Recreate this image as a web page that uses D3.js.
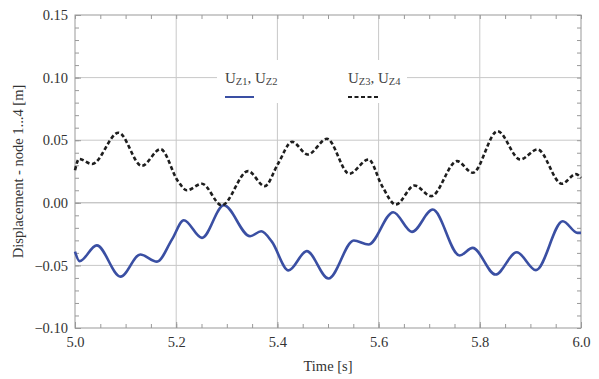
<!DOCTYPE html>
<html>
<head>
<meta charset="utf-8">
<script src="https://cdn.jsdelivr.net/npm/d3@7"></script>
<style>
  body { margin: 0; background: #fff; }
  svg { display: block; }
  text { font-family: "Liberation Serif", "Times New Roman", serif; }
</style>
</head>
<body>
<svg id="chart" width="599" height="379"></svg>
<script>
// Vertical displacement of nodes 1..4 over one second of simulation
const timeUz12 = [5.000, 5.009, 5.043, 5.090, 5.129, 5.162, 5.192, 5.215, 5.251, 5.294,
                  5.346, 5.368, 5.389, 5.422, 5.458, 5.501, 5.551, 5.580, 5.629, 5.666,
                  5.707, 5.760, 5.786, 5.831, 5.873, 5.911, 5.964, 5.993, 6.000];
const uz12 = [-0.039, -0.0466, -0.0340, -0.0590, -0.0413, -0.0470, -0.0290, -0.0139, -0.0280, -0.0020,
              -0.0267, -0.0227, -0.0310, -0.0540, -0.0386, -0.0605, -0.0301, -0.0333, -0.0075, -0.0232,
              -0.0054, -0.0421, -0.0360, -0.0573, -0.0395, -0.0538, -0.0147, -0.0240, -0.0240];

const timeUz34 = [5.000, 5.008, 5.034, 5.086, 5.132, 5.169, 5.204, 5.221, 5.251, 5.290,
                  5.342, 5.375, 5.401, 5.429, 5.460, 5.498, 5.542, 5.580, 5.607, 5.634,
                  5.671, 5.704, 5.755, 5.786, 5.835, 5.880, 5.914, 5.962, 5.990, 6.000];
const uz34 = [0.026, 0.035, 0.031, 0.056, 0.0295, 0.0428, 0.017, 0.010, 0.0152, -0.002,
              0.0253, 0.0133, 0.031, 0.0487, 0.0386, 0.0511, 0.0232, 0.0346, 0.0133, -0.0014,
              0.0138, 0.0053, 0.0333, 0.024, 0.0572, 0.0346, 0.0426, 0.0152, 0.0229, 0.020];

const xTicks = [5.0, 5.2, 5.4, 5.6, 5.8, 6.0];
const yTicks = [-0.10, -0.05, 0.00, 0.05, 0.10, 0.15];
const xLabel = "Time [s]";
const yLabel = "Displacement - node 1...4 [m]";

const W = 599, H = 379;
const m = { left: 75, right: 18, top: 15, bottom: 51 };
const svg = d3.select("#chart");

const x = d3.scaleLinear().domain([5.0, 6.0]).range([m.left, W - m.right]);
const y = d3.scaleLinear().domain([-0.10, 0.15]).range([H - m.bottom, m.top]);

const xMinor = d3.range(5.0, 6.0001, 0.05);
const yMinor = d3.range(-0.10, 0.15001, 0.01);

// grid lines at inner major ticks
const grid = svg.append("g").attr("stroke", "#c8c8c8").attr("stroke-width", 1);
xTicks.slice(1, -1).forEach(t => {
  grid.append("line").attr("x1", x(t)).attr("x2", x(t))
    .attr("y1", m.top).attr("y2", H - m.bottom);
});
yTicks.slice(1, -1).forEach(t => {
  grid.append("line").attr("x1", m.left).attr("x2", W - m.right)
    .attr("y1", y(t)).attr("y2", y(t))
    .attr("stroke", t === 0 ? "#b0b0b0" : null);
});

// legend background
const legend = svg.append("g");
legend.append("rect").attr("x", 217).attr("y", 60).attr("width", 190).attr("height", 43).attr("fill", "#fff");

// frame axes with inward ticks
function styleAxis(g) {
  g.select(".domain").remove();
  g.selectAll(".tick line").attr("stroke", "#999");
  g.selectAll("text").attr("fill", "#333").style("font-size", "14.5px")
    .style("font-family", '"Liberation Serif", serif');
}
const fx = d3.format(".1f"), fy = d3.format(".2f");

svg.append("g").attr("transform", `translate(0,${H - m.bottom})`)
  .call(d3.axisBottom(x).tickValues(xMinor).tickSize(-4).tickFormat(""))
  .call(styleAxis);
svg.append("g").attr("transform", `translate(0,${H - m.bottom})`)
  .call(d3.axisBottom(x).tickValues(xTicks).tickSize(-6).tickPadding(9).tickFormat(fx))
  .call(styleAxis);
svg.append("g").attr("transform", `translate(0,${m.top})`)
  .call(d3.axisTop(x).tickValues(xMinor).tickSize(-4).tickFormat(""))
  .call(styleAxis);
svg.append("g").attr("transform", `translate(${m.left},0)`)
  .call(d3.axisLeft(y).tickValues(yMinor).tickSize(-4).tickFormat(""))
  .call(styleAxis);
svg.append("g").attr("transform", `translate(${m.left},0)`)
  .call(d3.axisLeft(y).tickValues(yTicks).tickSize(-6).tickPadding(7).tickFormat(fy))
  .call(styleAxis);
svg.append("g").attr("transform", `translate(${W - m.right},0)`)
  .call(d3.axisRight(y).tickValues(yMinor).tickSize(-4).tickFormat(""))
  .call(styleAxis);

svg.append("rect").attr("x", m.left).attr("y", m.top)
  .attr("width", W - m.left - m.right).attr("height", H - m.top - m.bottom)
  .attr("fill", "none").attr("stroke", "#999").attr("stroke-width", 1);

// series
const line = d3.line().x(d => x(d[0])).y(d => y(d[1])).curve(d3.curveMonotoneX);
const plot = svg.append("g");
plot.append("path").datum(d3.zip(timeUz12, uz12))
  .attr("d", line).attr("fill", "none")
  .attr("stroke", "#3a4fa3").attr("stroke-width", 2.6).attr("stroke-linejoin", "round");
plot.append("path").datum(d3.zip(timeUz34, uz34))
  .attr("d", line).attr("fill", "none")
  .attr("stroke", "#1e1e1e").attr("stroke-width", 2.6).attr("stroke-dasharray", "4,2.5");

// legend entries
function legendLabel(xp, a, b) {
  const t = legend.append("text").attr("x", xp).attr("y", 83).attr("fill", "#444").style("font-size", "15px");
  t.append("tspan").text("U");
  t.append("tspan").text(a).style("font-size", "10.5px").attr("dy", 2);
  t.append("tspan").text(", U").attr("dy", -2);
  t.append("tspan").text(b).style("font-size", "10.5px").attr("dy", 2);
}
legendLabel(225, "Z1", "Z2");
legendLabel(348, "Z3", "Z4");
legend.append("line").attr("x1", 225).attr("x2", 254).attr("y1", 97).attr("y2", 97)
  .attr("stroke", "#3a4fa3").attr("stroke-width", 2);
legend.append("line").attr("x1", 348).attr("x2", 378).attr("y1", 97).attr("y2", 97)
  .attr("stroke", "#1e1e1e").attr("stroke-width", 2).attr("stroke-dasharray", "4,2.5");

// axis titles
svg.append("text").attr("x", (m.left + W - m.right) / 2 - 0).attr("y", 371)
  .attr("text-anchor", "middle").attr("fill", "#333").style("font-size", "14.5px").text(xLabel);
svg.append("text").attr("transform", `translate(23,${(m.top + H - m.bottom) / 2}) rotate(-90)`)
  .attr("text-anchor", "middle").attr("fill", "#333").style("font-size", "14.5px").text(yLabel);
</script>
</body>
</html>
